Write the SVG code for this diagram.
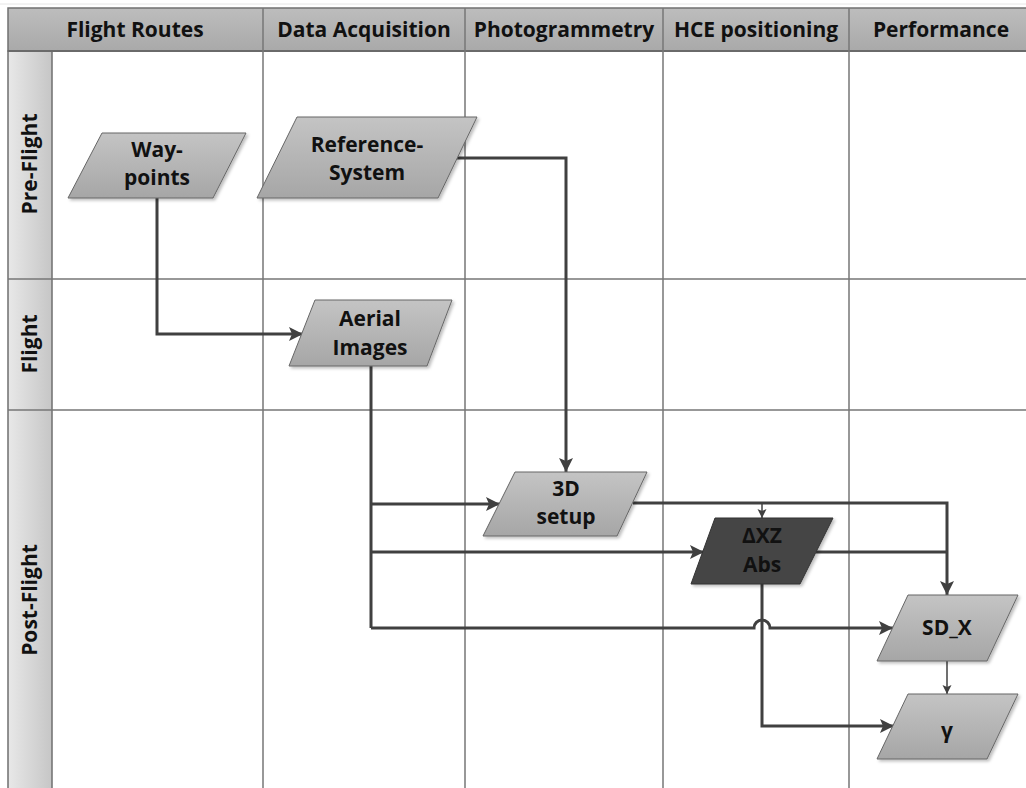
<svg xmlns="http://www.w3.org/2000/svg" width="1026" height="788" viewBox="0 0 1026 788">
<defs>
<linearGradient id="hdr" x1="0" y1="0" x2="0" y2="1">
<stop offset="0" stop-color="#bdbdbd"/><stop offset="1" stop-color="#a9a9a9"/>
</linearGradient>
<linearGradient id="lane" x1="0" y1="0" x2="1" y2="0">
<stop offset="0" stop-color="#e8e8e8"/><stop offset="1" stop-color="#c6c6c6"/>
</linearGradient>
<linearGradient id="node" x1="0" y1="0" x2="0" y2="1">
<stop offset="0" stop-color="#c4c4c4"/><stop offset="1" stop-color="#a6a6a6"/>
</linearGradient>
<marker id="arr" markerUnits="userSpaceOnUse" markerWidth="16" markerHeight="14" refX="14" refY="7" orient="auto">
<path d="M0,0 L14,7 L0,14 L3,7 Z" fill="#404040"/>
</marker>
<marker id="arrS" markerUnits="userSpaceOnUse" markerWidth="10" markerHeight="10" refX="9" refY="5" orient="auto">
<path d="M0,0.5 L9,5 L0,9.5 L2,5 Z" fill="#404040"/>
</marker>
<filter id="sh" x="-10%" y="-10%" width="130%" height="130%">
<feDropShadow dx="2" dy="2" stdDeviation="1.5" flood-color="#000" flood-opacity="0.25"/>
</filter>
</defs>
<style>
.t{font-family:"Open Sans","Liberation Sans",sans-serif;font-weight:bold;font-size:21px;fill:#111;text-anchor:middle}
.grid{stroke:#777;stroke-width:1.5;fill:none}
.nd{fill:url(#node);stroke:#666;stroke-width:1;filter:url(#sh)}
.dk{fill:#454545;stroke:#333;stroke-width:1;filter:url(#sh)}
.c{fill:none;stroke:#404040;stroke-width:3;marker-end:url(#arr)}
.cs{fill:none;stroke:#404040;stroke-width:1.5;marker-end:url(#arrS)}
.cn{fill:none;stroke:#404040;stroke-width:3}
</style>
<rect width="1026" height="788" fill="#ffffff"/>
<line x1="0" y1="4" x2="1026" y2="4" stroke="#e6e6e6" stroke-width="1"/>

<g id="lanes">
<rect x="8" y="51" width="44" height="740" fill="url(#lane)" stroke="#6f6f6f" stroke-width="1.5"/>
<rect x="8" y="8" width="1030" height="43" fill="url(#hdr)" stroke="#707070" stroke-width="1.5"/>
<line x1="8" y1="51" x2="1026" y2="51" stroke="#6a6a6a" stroke-width="2"/>
<path class="grid" d="M263,8 V788 M465,8 V788 M663,8 V788 M849,8 V788"/>
<path class="grid" d="M8,279 H1026 M8,410 H1026"/>
<text class="t" x="135" y="37">Flight Routes</text>
<text class="t" x="364" y="37">Data Acquisition</text>
<text class="t" x="564" y="37">Photogrammetry</text>
<text class="t" x="756" y="37">HCE positioning</text>
<text class="t" x="941" y="37">Performance</text>
<text class="t" transform="translate(37,164) rotate(-90)">Pre-Flight</text>
<text class="t" transform="translate(37,344) rotate(-90)">Flight</text>
<text class="t" transform="translate(37,600) rotate(-90)">Post-Flight</text>
</g>

<g id="connectors">
<path class="c" d="M157,198 V334 H303"/>
<path class="c" d="M457,158 H566 V472"/>
<path class="cn" d="M371,366 V628"/>
<path class="c" d="M371,504 H500"/>
<path class="c" d="M371,552 H704"/>
<path class="c" d="M371,628 H754 A8,8 0 0 1 770,628 H893"/>
<path class="c" d="M633,503 H947 V595"/>
<path class="cs" d="M762,503 V518"/>
<path class="cn" d="M816,552 H947"/>
<path class="c" d="M762,584 V726 H894"/>
<path class="cs" d="M947,661 V694"/>
</g>

<g id="waypoints">
<polygon class="nd" points="102,133 246,133 213,198 68,198"/>
<text class="t" x="157" y="157">Way-</text>
<text class="t" x="157" y="185">points</text>
</g>
<g id="reference-system">
<polygon class="nd" points="297,117 477,117 438,198 257,198"/>
<text class="t" x="367" y="152">Reference-</text>
<text class="t" x="367" y="180">System</text>
</g>
<g id="aerial-images">
<polygon class="nd" points="315,300 452,300 427,366 289,366"/>
<text class="t" x="370" y="326">Aerial</text>
<text class="t" x="370" y="355">Images</text>
</g>
<g id="setup-3d">
<polygon class="nd" points="515,472 647,472 617,536 483,536"/>
<text class="t" x="566" y="496">3D</text>
<text class="t" x="566" y="524">setup</text>
</g>
<g id="dxz-abs">
<polygon class="dk" points="715,518 833,518 800,584 691,584"/>
<text class="t" x="762" y="543">ΔXZ</text>
<text class="t" x="762" y="572">Abs</text>
</g>
<g id="sd-x">
<polygon class="nd" points="908,595 1018,595 987,661 877,661"/>
<text class="t" x="947" y="635">SD_X</text>
</g>
<g id="gamma">
<polygon class="nd" points="908,694 1018,694 987,759 877,759"/>
<text class="t" x="947" y="738">γ</text>
</g>
</svg>
